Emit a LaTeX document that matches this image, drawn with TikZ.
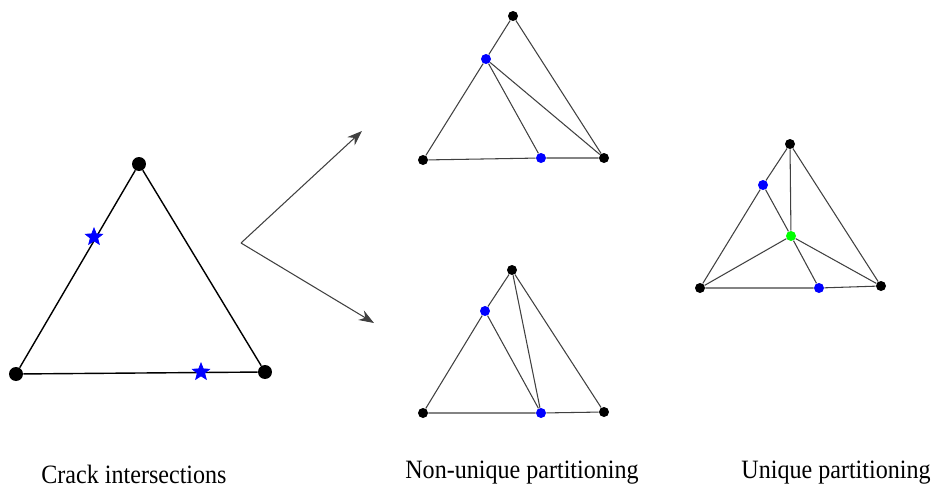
\documentclass[tikz,border=0pt]{standalone}
\usepackage{fontspec}
\setmainfont{Liberation Serif}
\usetikzlibrary{shapes.geometric,arrows.meta}
\begin{document}
\begin{tikzpicture}[x=0.02cm, y=-0.02cm, font=\fontsize{13.7}{15}\selectfont]
            \tikzstyle{big node}=[circle,inner sep=0pt,fill=black,minimum size=0.28cm]
            \tikzstyle{small node}=[circle,inner sep=0pt,fill=black,minimum size=0.2cm]
            \tikzstyle{cut node}=[small node,fill=blue]
            \tikzstyle{crack star}=[star,star points=5,star point ratio=2.3,fill=blue,draw=blue,inner sep=0pt,minimum size=0.36cm]
            \tikzstyle{edge}=[draw=black!75,line width=0.6pt]
            \tikzstyle{caption}=[anchor=base,inner sep=0pt,yscale=1.1]
            \useasboundingbox (0,0) rectangle (938,487);

            % 原始单元
            \node[big node] (a1) at (139,164) {};
            \node[big node] (a2) at (16,374) {};
            \node[big node] (a3) at (265,372) {};
            \draw[line width=0.8pt] (a1) -- (a2) -- (a3) -- (a1);
            \node[crack star] (s1) at (94,237) {};
            \node[crack star] (s2) at (201,372) {};

            % 箭头
            \coordinate (o) at (241,243);
            \coordinate (up) at (362,131);
            \coordinate (dn) at (374,323);
            \draw[edge,-{Stealth[length=0.3cm,width=0.22cm]}] (o) -- (up);
            \draw[edge,-{Stealth[length=0.3cm,width=0.22cm]}] (o) -- (dn);

            % 非唯一划分 (上)
            \node[small node] (b1) at (513,16) {};
            \node[small node] (b2) at (423,160) {};
            \node[small node] (b3) at (604,158) {};
            \node[cut node] (bp) at (486,59) {};
            \node[cut node] (bq) at (541,158) {};
            \draw[edge] (b1) -- (bp) -- (b2) -- (bq) -- (b3) -- (b1);
            \draw[edge] (bp) -- (bq);
            \draw[edge] (bp) -- (b3);

            % 非唯一划分 (下)
            \node[small node] (c1) at (512,270) {};
            \node[small node] (c2) at (423,413) {};
            \node[small node] (c3) at (604,412) {};
            \node[cut node] (cp) at (485,311) {};
            \node[cut node] (cq) at (541,413) {};
            \draw[edge] (c1) -- (cp) -- (c2) -- (cq) -- (c3) -- (c1);
            \draw[edge] (cp) -- (cq);
            \draw[edge] (c1) -- (cq);

            % 唯一划分
            \node[small node] (d1) at (790,144) {};
            \node[small node] (d2) at (700,288) {};
            \node[small node] (d3) at (881,286) {};
            \node[cut node] (dp) at (763,185) {};
            \node[cut node] (dq) at (819,288) {};
            \node[small node, fill=green] (dc) at (791,236) {};
            \draw[edge] (d1) -- (dp) -- (d2) -- (dq) -- (d3) -- (d1);
            \foreach \v in {d1,d2,d3,dp,dq}
                \draw[edge] (dc) -- (\v);

            % 标题
            \node[caption] (t1) at (134,483) {Crack intersections};
            \node[caption] (t2) at (522,478) {Non-unique partitioning};
            \node[caption] (t3) at (836,478) {Unique partitioning};
\end{tikzpicture}
\end{document}
